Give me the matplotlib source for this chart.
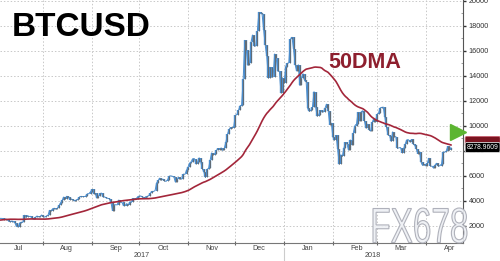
import matplotlib
matplotlib.use("Agg")
import matplotlib.pyplot as plt
import matplotlib.dates as mdates
from matplotlib.textpath import TextPath
from matplotlib.patches import PathPatch
from matplotlib.font_manager import FontProperties
from matplotlib.transforms import Affine2D, blended_transform_factory
import pandas as pd
import numpy as np

plt.rcParams["font.family"] = ["Liberation Sans", "DejaVu Sans"]

# daily BTCUSD closes (May/June 2017 only feed the 50DMA)
may17 = [1800, 1880, 1960, 2050, 2040, 2100, 2280, 2450, 2320, 2230, 2050, 2190, 2270, 2200, 2330]
jun17 = [2450, 2520, 2550, 2530, 2690, 2880, 2700, 2800, 2820, 2900, 2990, 2650, 2720, 2490, 2450,
         2510, 2650, 2550, 2610, 2740, 2670, 2700, 2720, 2560, 2550, 2450, 2580, 2560, 2540, 2480]
jul17 = [2430, 2510, 2570, 2600, 2610, 2600, 2510, 2560, 2520, 2380, 2330, 2400, 2360, 2230, 1960,
         1930, 2230, 2310, 2280, 2860, 2680, 2830, 2760, 2770, 2600, 2540, 2680, 2800, 2730, 2760, 2880]
aug17 = [2730, 2710, 2800, 2860, 3250, 3220, 3380, 3420, 3340, 3420, 3650, 3850, 4060, 4320, 4160,
         4380, 4280, 4110, 4160, 4060, 4000, 4090, 4140, 4320, 4370, 4350, 4350, 4390, 4580, 4580, 4740]
sep17 = [4920, 4580, 4600, 4230, 4380, 4600, 4630, 4320, 4330, 4240, 4210, 4170, 3880, 3230, 3700,
         3700, 3690, 4080, 3910, 3880, 3620, 3630, 3790, 3680, 3930, 3890, 4200, 4180, 4170, 4340]
oct17 = [4400, 4400, 4320, 4230, 4330, 4370, 4430, 4610, 4770, 4760, 4830, 5440, 5640, 5830, 5680,
         5750, 5600, 5570, 5700, 5990, 6010, 5980, 5900, 5500, 5730, 5890, 5770, 5750, 6150, 6130, 6450]
nov17 = [6740, 7020, 7150, 7390, 7390, 6960, 7110, 7460, 7140, 6590, 6340, 5880, 6530, 6600, 7280,
         7850, 7700, 7790, 8040, 8200, 8100, 8250, 8040, 8230, 8700, 9330, 9720, 9880, 9840, 9950]
dec17 = [10860, 10910, 11240, 11620, 11670, 13750, 16850, 16050, 14840, 15060, 16730, 17280, 16390,
         16400, 17600, 19100, 19000, 18960, 17700, 16460, 15560, 13830, 14700, 13900, 13930, 15760,
         15400, 14380, 14380, 12640, 13860]
jan18 = [13440, 14750, 15010, 15050, 16940, 17100, 16170, 14900, 14400, 14900, 13240, 13830, 14190,
         13640, 13550, 11400, 11160, 11250, 11510, 12750, 11530, 10780, 10900, 11240, 11120, 11120,
         11440, 11750, 11210, 10110, 10230]
feb18 = [9110, 8870, 9250, 8180, 6930, 7700, 7580, 8220, 8680, 8530, 8060, 8890, 8500, 9470, 10030,
         10160, 11090, 10400, 11150, 11220, 10430, 9830, 10150, 9690, 9590, 10310, 10570, 10330]
mar18 = [10920, 11020, 11440, 11490, 11510, 10720, 9910, 9280, 9230, 8770, 9530, 9140, 9150, 8200,
         8260, 8270, 7860, 8200, 8590, 8900, 8900, 8720, 8920, 8550, 8450, 8140, 7790, 7950, 7090,
         6840, 6930]
apr18 = [6810, 7050, 7420, 6790, 6780, 6620, 6900, 7020, 6770, 6830, 6940, 7920, 7890, 8000, 8360,
         8060, 8278.9609]

month_labels = ["Jul", "Aug", "Sep", "Oct", "Nov", "Dec", "Jan", "Feb", "Mar", "Apr"]
year_labels = ["2017", "2018"]

closes = may17 + jun17 + jul17 + aug17 + sep17 + oct17 + nov17 + dec17 + jan18 + feb18 + mar18 + apr18
dates = pd.date_range("2017-05-17", periods=len(closes), freq="D")
px = pd.Series(closes, index=dates)
ma50 = px.rolling(50).mean()

fig = plt.figure(figsize=(5, 2.61), dpi=100)
ax = fig.add_axes([0, 0.070, 0.925, 0.930])

# candles: open = previous close
opens = px.shift(1)
lo = np.minimum(opens[1:], px[1:])
hi = np.maximum(opens[1:], px[1:])
ax.plot(dates, px.values, color="#4b8ccb", lw=0.7, zorder=3)
ax.vlines(dates[1:], lo, hi, color="#4b8ccb", lw=1.7, zorder=3)
ax.vlines(dates[1:], lo, hi, color="#666666", lw=0.6, zorder=4)
ax.plot(dates, ma50.values, color="#a3263a", lw=1.2, zorder=5)

x0 = mdates.date2num(pd.Timestamp("2017-07-04 12:00"))
x1 = mdates.date2num(pd.Timestamp("2018-04-24 08:00"))
ax.set_xlim(x0, x1)
ax.set_ylim(660, 20080)

# axes styling
for s in ["left", "top"]:
    ax.spines[s].set_visible(False)
ax.spines["right"].set_color("#555555")
ax.spines["bottom"].set_color("#777777")
ax.spines["right"].set_linewidth(0.8)
ax.spines["bottom"].set_linewidth(0.8)

ax.yaxis.tick_right()
ax.set_yticks(np.arange(2000, 20001, 2000))
ax.set_yticks(np.arange(1000, 20001, 1000), minor=True)
ax.yaxis.set_major_formatter(plt.FuncFormatter(lambda v, p: f"{int(v)}"))
ax.tick_params(axis="y", which="major", direction="out", length=2.5, width=1.0,
               labelsize=5.2, labelcolor="#333333", color="#333333", pad=2)
ax.tick_params(axis="y", which="minor", direction="in", length=1.5, width=0.5, color="#777777")

month_starts = pd.date_range("2017-08-01", "2018-04-01", freq="MS")
mid_months = pd.date_range("2017-07-01", "2018-04-01", freq="MS") + pd.Timedelta(days=15)
ax.set_xticks(mdates.date2num(month_starts))
ax.set_xticks(mdates.date2num(mid_months), minor=True)
ax.set_xticklabels([])
ax.set_xticklabels(month_labels, minor=True)
ax.tick_params(axis="x", which="major", direction="inout", length=3, width=0.8, color="#666666")
ax.tick_params(axis="x", which="minor", length=0, labelsize=5.2, labelcolor="#444444", pad=1.5)

ax.grid(axis="y", which="major", color="#c8c8c8", lw=0.7, ls=(0, (1.5, 2)))
ax.grid(axis="x", which="major", color="#c8c8c8", lw=0.7, ls=(0, (1.5, 2)))

# year labels and separator
xt = ax.get_xaxis_transform()
jan1 = mdates.date2num(pd.Timestamp("2018-01-01"))
ax.text((x0 + jan1) / 2, -0.054, year_labels[0], transform=xt, ha="center", va="center",
        fontsize=5.2, color="#444444")
ax.text((jan1 + x1) / 2, -0.054, year_labels[1], transform=xt, ha="center", va="center",
        fontsize=5.2, color="#444444")
ax.plot([jan1, jan1], [-0.02, -0.12], transform=xt, color="#cccccc", lw=0.8, clip_on=False)

# right-side value tags
yt = blended_transform_factory(ax.transAxes, ax.transData)
ax.text(1.009, max(ma50.iloc[-1], px.iloc[-1] + 480), f"{ma50.iloc[-1]:.4f}", transform=yt,
        ha="left", va="center", fontsize=4.9, color="#7a1420", zorder=6,
        bbox=dict(boxstyle="round,pad=0.22", fc="#7a1420", ec="#c86070", lw=0.6), clip_on=False)
ax.text(1.009, px.iloc[-1], f"{px.iloc[-1]:.4f}", transform=yt, ha="left", va="center",
        fontsize=4.9, color="white", zorder=7,
        bbox=dict(boxstyle="round,pad=0.22", fc="black", ec="#dddddd", lw=0.6), clip_on=False)
ax.plot([0.99], [9500], marker=">", markersize=12, color="#5cb531", transform=yt,
        clip_on=False, zorder=8)

# titles
fig.text(12 / 500, 1 - 28 / 261, "BTCUSD", fontsize=24, fontweight="bold",
         color="black", va="center", ha="left")
fig.text(328 / 500, 1 - 62 / 261, "50DMA", fontsize=15.5, fontweight="bold",
         color="#8e1f2e", va="center", ha="left")

# FX678 watermark
tp = TextPath((0, 0), "FX678", size=49, prop=FontProperties(family="Liberation Sans"))
bb = tp.get_extents()
sx = 94 / bb.width
tr = Affine2D().translate(-bb.x0, -bb.y0).scale(sx, 35 / bb.height).translate(373, 18)
fig.add_artist(PathPatch(tp, transform=tr, fc="#eef0f4", ec="#a8aab4", lw=0.8, alpha=0.9, zorder=10))

fig.savefig("out.png", dpi=100)
